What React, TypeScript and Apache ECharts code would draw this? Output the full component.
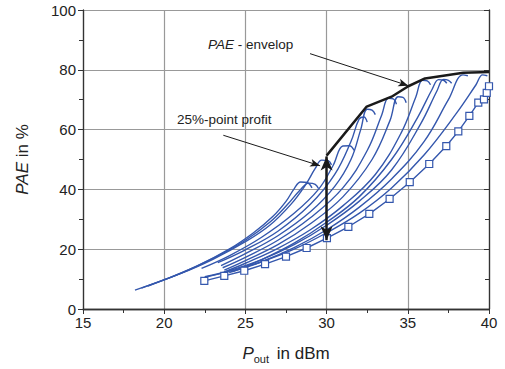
import React, { useEffect, useRef } from "react";
import * as echarts from "echarts";

// ---- data ----
const xTicks = [15, 20, 25, 30, 35, 40];
const yTicks = [0, 20, 40, 60, 80, 100];

const curveA = [[18.2,6.3],[20,9.8],[22,14.3],[24,20],[25.5,25.5],[26.7,31],[27.5,36],[28.0,40.2],[28.4,42.5],[28.8,42.3],[29.1,40.5]];
const curveB = [[19,7.7],[21,11.9],[23,16.9],[25,23],[26.5,29],[27.6,35],[28.4,40],[28.9,42.1],[29.3,41.7],[29.5,40.3]];
const curveC = [[18.6,7],[21,11.8],[23,16.6],[25,22.5],[26.5,28],[27.8,35],[28.7,41.5],[29.3,47],[29.7,49.8],[30.1,49.6],[30.3,48.2]];
const curveD = [[22.3,13.6],[24,17.8],[26,24],[28,32],[29.5,40],[30.4,48],[31.0,54.5],[31.4,54.6],[31.7,53]];
const curveE = [[23.3,15.5],[25,19.8],[27,26],[29,35],[30.5,45],[31.5,56],[32.0,63.5],[32.3,64.2],[32.5,62.5]];
const curveF = [[23.5,14.5],[25,18.5],[27,24.5],[29,32.5],[30.5,41],[31.5,50],[32.1,60],[32.5,66.8],[32.8,66.5],[33.0,65]];
const curveG = [[23.6,13.8],[25,17.3],[27,23],[29,30.5],[31,40.5],[32.5,53],[33.4,65],[33.8,70.5],[34.1,70.3],[34.3,68.5]];
const curveH = [[23.7,13.0],[25,16.2],[27,21.5],[29,28.5],[31,37.5],[32.8,50],[33.9,63],[34.4,71],[34.7,70.8],[34.9,69]];
const curveI = [[23.7,12.4],[25,15.3],[27,20.3],[29,26.5],[31,34.5],[33,45],[34.6,59],[35.5,71],[35.9,76.5],[36.2,76.3],[36.4,75]];
const curveJ = [[24.2,12.5],[26,16.5],[28,22],[30,29],[32,37.5],[34,50],[35.6,64],[36.5,73.5],[36.9,76.7],[37.2,76.5],[37.4,75.5]];
const curveK = [[22.5,10.8],[24,12.8],[26,16.5],[28,21.5],[30,28],[32,36],[34,46.5],[35.8,62],[36.8,73],[37.2,76.8],[37.5,76.5],[37.7,75.5]];
const curveL = [[24,12.2],[26,15.8],[28,20.5],[30,26.5],[32,34],[34,43.5],[36,56],[37.5,70],[38.4,78.3],[38.7,78]];
const curveM = [[22.5,10.6],[24,12.6],[26,15.8],[28,20],[30,25.5],[32,32],[34,40.5],[36,51.5],[38,65.5],[39.2,75],[39.6,78.3],[39.9,78]];
const blueCurves = [curveA, curveB, curveC, curveD, curveE, curveF, curveG, curveH, curveI, curveJ, curveK, curveL, curveM];

const squareCurve = [[22.47,9.4],[23.7,11.1],[24.93,12.8],[26.21,15.0],[27.5,17.5],[28.77,20.4],[30.02,23.7],[31.34,27.5],[32.63,31.8],[33.88,36.8],[35.12,42.4],[36.32,48.5],[37.37,54.5],[38.11,59.4],[38.79,64.6],[39.34,69.0],[39.69,70.1],[39.86,72.3],[40.0,74.5]];

const envelope = [[30,51.3],[32.47,67.7],[34.0,71.0],[35.03,74.5],[36.06,77.1],[38.42,79.0],[40,79.3]];

const profitArrow = [[30, 51], [30, 23]];
const profitPointer = [[23.64, 58.1], [29.6, 47.9]];
const envelopPointer = [[28.98, 85.4], [35.03, 74.7]];

const BLUE = "#3457ad";
const FONT = "'Liberation Sans', Arial, sans-serif";

export default function App() {
  const ref = useRef<HTMLDivElement>(null);
  useEffect(() => {
    if (!ref.current) return;
    const chart = echarts.init(ref.current, undefined, { renderer: "svg" });
    const axisLine = { lineStyle: { color: "#333", width: 1.3 } };
    const series: any[] = blueCurves.map((c, i) => ({
      type: "line",
      name: "c" + i,
      data: c,
      smooth: 0.4,
      showSymbol: false,
      symbol: "none",
      lineStyle: { color: BLUE, width: 1.4 },
      z: 2,
    }));
    series.push({
      type: "line",
      data: squareCurve,
      symbol: "rect",
      symbolSize: 7,
      lineStyle: { color: BLUE, width: 1.4 },
      itemStyle: { color: "#fff", borderColor: BLUE, borderWidth: 1.2 },
      z: 3,
    });
    series.push({
      type: "line",
      data: envelope,
      symbol: "none",
      lineStyle: { color: "#1a1a1a", width: 2.5 },
      z: 4,
      markLine: {
        silent: true,
        animation: false,
        label: { show: false },
        data: [
          [
            { coord: profitArrow[0], symbol: "arrow", symbolSize: [9, 14], lineStyle: { color: "#1a1a1a", width: 2.5, type: "solid" } },
            { coord: profitArrow[1], symbol: "arrow", symbolSize: [9, 14] },
          ],
          [
            { coord: profitPointer[0], symbol: "none", lineStyle: { color: "#1a1a1a", width: 1, type: "solid" } },
            { coord: profitPointer[1], symbol: "arrow", symbolSize: [6, 10] },
          ],
          [
            { coord: envelopPointer[0], symbol: "none", lineStyle: { color: "#1a1a1a", width: 1, type: "solid" } },
            { coord: envelopPointer[1], symbol: "arrow", symbolSize: [6, 10] },
          ],
        ],
      },
    });

    chart.setOption({
      animation: false,
      backgroundColor: "#fff",
      grid: { left: 83, right: 16, top: 10, bottom: 58 },
      xAxis: [
        {
          type: "value",
          min: xTicks[0],
          max: xTicks[xTicks.length - 1],
          interval: 5,
          axisLine,
          axisTick: { show: true, length: 5, lineStyle: { color: "#333" } },
          minorTick: { show: true, splitNumber: 2, length: 4, lineStyle: { color: "#333" } },
          splitLine: { show: true, lineStyle: { color: "#999", width: 1.2 } },
          axisLabel: { color: "#222", fontSize: 15, fontFamily: FONT, margin: 6 },
          name: "{i|P}{s|out} in dBm",
          nameLocation: "middle",
          nameGap: 34,
          nameTextStyle: {
            color: "#222",
            fontSize: 17,
            fontFamily: FONT,
            rich: {
              i: { fontStyle: "italic", fontSize: 17, fontFamily: FONT, color: "#222" },
              s: { fontSize: 11, fontFamily: FONT, color: "#222", verticalAlign: "bottom", padding: [10, 3, 0, 0] },
            },
          },
        },
        {
          type: "value",
          position: "top",
          min: xTicks[0],
          max: xTicks[xTicks.length - 1],
          interval: 5,
          axisLine,
          axisTick: { show: true, inside: true, length: 5, lineStyle: { color: "#333" } },
          minorTick: { show: true, splitNumber: 2, length: 4, lineStyle: { color: "#333" } },
          splitLine: { show: false },
          axisLabel: { show: false },
        },
      ],
      yAxis: [
        {
          type: "value",
          min: yTicks[0],
          max: yTicks[yTicks.length - 1],
          interval: 20,
          axisLine,
          axisTick: { show: true, length: 5, lineStyle: { color: "#333" } },
          minorTick: { show: true, splitNumber: 2, length: 4, lineStyle: { color: "#333" } },
          splitLine: { show: true, lineStyle: { color: "#999", width: 1.2 } },
          axisLabel: { color: "#222", fontSize: 15, fontFamily: FONT, margin: 7 },
          name: "{i|PAE} in %",
          nameLocation: "middle",
          nameGap: 52,
          nameRotate: 90,
          nameTextStyle: {
            color: "#222",
            fontSize: 17,
            fontFamily: FONT,
            rich: {
              i: { fontStyle: "italic", fontSize: 17, fontFamily: FONT, color: "#222" },
            },
          },
        },
        {
          type: "value",
          position: "right",
          min: yTicks[0],
          max: yTicks[yTicks.length - 1],
          interval: 20,
          axisLine,
          axisTick: { show: true, inside: true, length: 5, lineStyle: { color: "#333" } },
          minorTick: { show: true, splitNumber: 2, length: 4, lineStyle: { color: "#333" } },
          splitLine: { show: false },
          axisLabel: { show: false },
        },
      ],
      graphic: [
        {
          type: "text",
          left: 208,
          top: 37,
          style: {
            text: "{i|PAE} - envelop",
            fill: "#222",
            font: `13.5px ${FONT}`,
            rich: { i: { fontStyle: "italic", fontSize: 13.5, fontFamily: FONT, fill: "#222" } },
          },
          z: 10,
        },
        {
          type: "text",
          left: 177,
          top: 112,
          style: { text: "25%-point profit", fill: "#222", font: `13.5px ${FONT}` },
          z: 10,
        },
      ],
      series,
    });
    return () => chart.dispose();
  }, []);
  return <div ref={ref} style={{ position: "absolute", left: 0, top: 0, width: 505, height: 369 }} />;
}
